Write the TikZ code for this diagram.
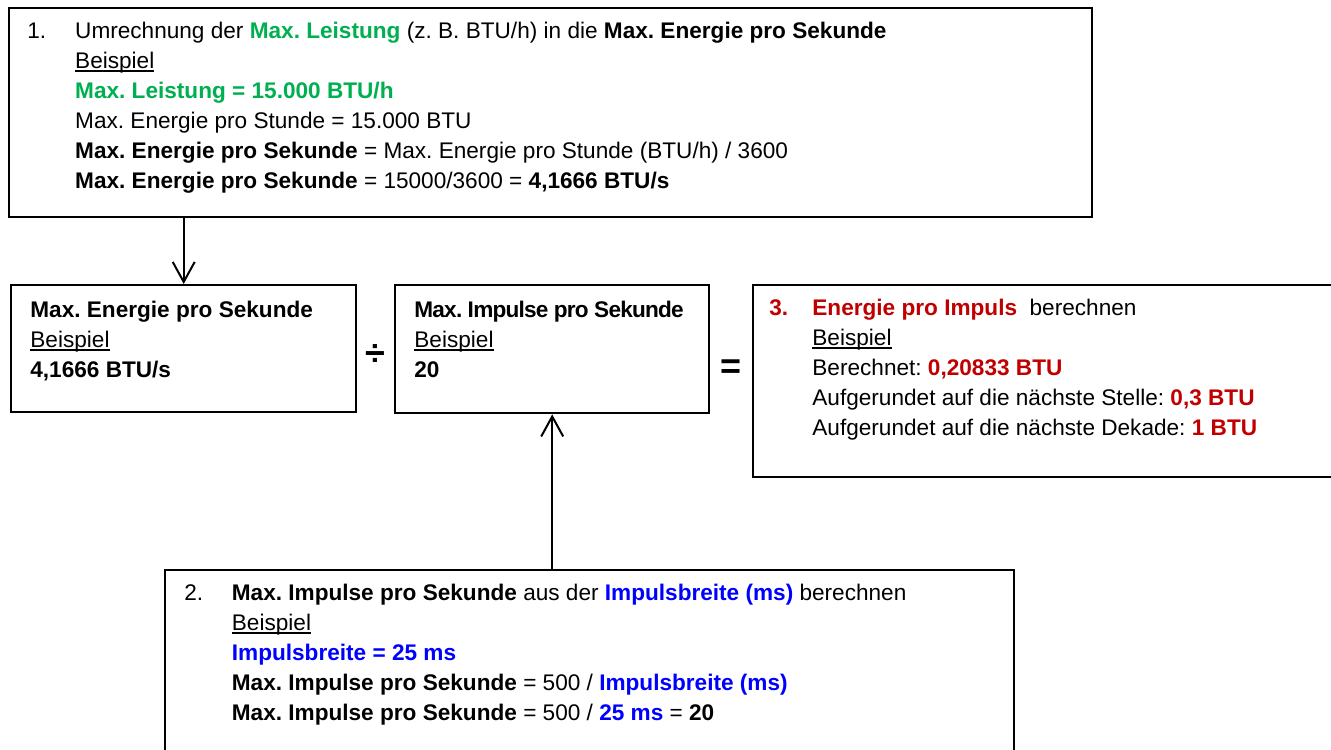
\documentclass[tikz,border=0pt]{standalone}
\usepackage{fontspec}
\setmainfont{Liberation Sans}
\usepackage{xcolor}
\usepackage{tikz}
\usetikzlibrary{positioning,arrows.meta,calc}
\definecolor{ink}{gray}{0}
\definecolor{gruen}{RGB}{0,176,80}
\definecolor{rot}{RGB}{192,0,0}
\definecolor{blau}{RGB}{0,0,255}
\newcommand{\unterstr}[1]{\begingroup\setbox0\hbox{#1}\rlap{\rule[-1.6pt]{\wd0}{0.65pt}}\box0\endgroup}
\newcommand{\zeilen}[1]{\begin{tabular}[t]{@{}l@{}}#1\end{tabular}}
\newcommand{\schritt}[3]{\begin{tabular}[t]{@{}p{#1}@{}l@{}}#2 & \zeilen{#3}\end{tabular}}
\tikzset{
  rahmen/.style={draw=ink, line width=1.2pt, anchor=north west, inner sep=0pt, fill=white},
  inhalt/.style={anchor=north west, inner sep=0pt, font=\fontsize{11.3}{15}\selectfont\frenchspacing},
  pfeil/.style={-{Straight Barb[length=10pt,width=11pt]}, draw=ink, line width=1pt},
  zeichen/.style={font=\fontsize{18}{18}\selectfont\bfseries, inner sep=0pt},
}

\begin{document}
\begin{tikzpicture}[x=0.5pt, y=-0.5pt]
  \useasboundingbox (0,0) rectangle (1331,749);
  \node[rahmen, minimum width=541.5pt, minimum height=104.5pt] (umr) at (8,7) {};
  \node[rahmen, minimum width=172.5pt, minimum height=63.5pt] (esek) at (10,284) {};
  \node[rahmen, minimum width=157pt, minimum height=64pt] (ipsek) at (394,284) {};
  \node[rahmen, minimum width=296.5pt, minimum height=96pt] (epimp) at (752,284) {};
  \node[rahmen, minimum width=424.5pt, minimum height=95.5pt] (ibreit) at (164,569) {};

  \node[inhalt] (umrtext) at (27,17) {\schritt{23.9pt}{1.}{%
    Umrechnung der \textcolor{gruen}{\textbf{Max. Leistung}} (z. B. BTU/h) in die \textbf{Max. Energie pro Sekunde}\\
    \unterstr{Beispiel}\\
    \textcolor{gruen}{\textbf{Max. Leistung = 15.000 BTU/h}}\\
    Max. Energie pro Stunde = 15.000 BTU\\
    \textbf{Max. Energie pro Sekunde} = Max. Energie pro Stunde (BTU/h) / 3600\\
    \textbf{Max. Energie pro Sekunde} = 15000/3600 = \textbf{4,1666 BTU/s}}};
  \node[inhalt] (esektext) at (30,296) {\zeilen{%
    \textbf{Max. Energie pro Sekunde}\\
    \unterstr{Beispiel}\\
    \textbf{4,1666 BTU/s}}};
  \node[inhalt] (ipsektext) at (414,296) {\zeilen{%
    {\addfontfeature{LetterSpace=-3.5}\textbf{Max. Impulse pro Sekunde}}\\
    \unterstr{Beispiel}\\
    \textbf{20}}};
  \node[inhalt] (epimptext) at (769,294) {\schritt{21.5pt}{\textcolor{rot}{\textbf{3.}}}{%
    \textcolor{rot}{\textbf{Energie pro Impuls}}\ \ berechnen\\
    \unterstr{Beispiel}\\
    Berechnet: \textcolor{rot}{\textbf{0,20833 BTU}}\\
    Aufgerundet auf die nächste Stelle: \textcolor{rot}{\textbf{0,3 BTU}}\\
    Aufgerundet auf die nächste Dekade: \textcolor{rot}{\textbf{1 BTU}}}};
  \node[inhalt] (ibreittext) at (184,579) {\schritt{23.75pt}{2.}{%
    \textbf{Max. Impulse pro Sekunde} aus der \textcolor{blau}{\textbf{Impulsbreite (ms)}} berechnen\\
    \unterstr{Beispiel}\\
    \textcolor{blau}{\textbf{Impulsbreite = 25 ms}}\\
    \textbf{Max. Impulse pro Sekunde} = 500 / \textcolor{blau}{\textbf{Impulsbreite (ms)}}\\
    \textbf{Max. Impulse pro Sekunde} = 500 / \textcolor{blau}{\textbf{25 ms}} = \textbf{20}}};

  \node[zeichen, yshift=-3pt] (geteilt) at ($(esek.east)!0.5!(ipsek.west)$) {÷};
  \node[zeichen, yshift=-2pt] (gleich) at ($(ipsek.east)!0.5!(epimp.west)$) {=};

  \draw[pfeil] (umr.south -| esek.north) -- (esek.north);
  \draw[pfeil] (ibreit.north -| ipsek.south) -- (ipsek.south);
\end{tikzpicture}
\end{document}
